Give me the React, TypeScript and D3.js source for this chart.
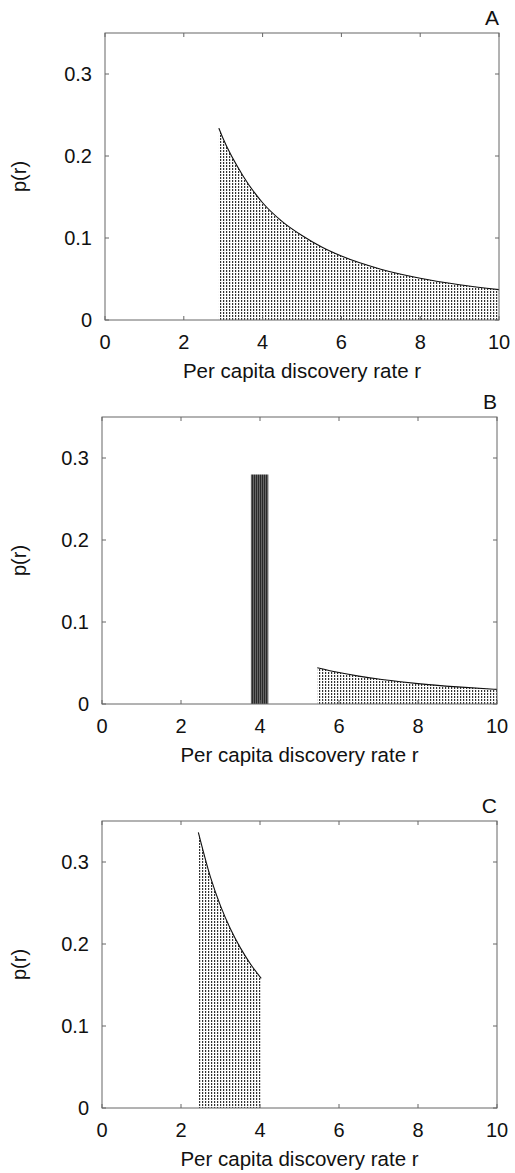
import React from 'react';
import * as d3 from 'd3';

// tick labels
const xTicks = [0, 2, 4, 6, 8, 10];
const yTicks = [0, 0.1, 0.2, 0.3];
const yTickLabels = ['0', '0.1', '0.2', '0.3'];
const panelLabels = ['A', 'B', 'C'];

// panel A: single decaying tail
const aR = [2.89, 3, 3.5, 4, 4.5, 5, 5.5, 6, 7, 8, 9, 10];
const aP = [0.234, 0.221, 0.176, 0.143, 0.12, 0.103, 0.089, 0.078, 0.062, 0.051, 0.043, 0.037];

// panel B: narrow spike plus a low tail
const bSpikeR = [3.77, 4.21];
const bSpikeP = [0.28, 0.28];
const bR = [5.45, 6, 6.5, 7, 7.5, 8, 9, 10];
const bP = [0.0443, 0.0384, 0.034, 0.0304, 0.0275, 0.0249, 0.0209, 0.0178];

// panel C: truncated decay
const cR = [2.44, 2.75, 3, 3.25, 3.5, 3.75, 4.03];
const cP = [0.336, 0.281, 0.2465, 0.2186, 0.1956, 0.1763, 0.158];

const font = '"Liberation Sans", Arial, sans-serif';

type Series = {r: number[]; p: number[]; fill: string; line: boolean};

const panels: {left: number; right: number; top: number; series: Series[]}[] = [
  {left: 105, right: 499, top: 33, series: [{r: aR, p: aP, fill: 'url(#dash)', line: true}]},
  {left: 102, right: 497, top: 417, series: [
    {r: bSpikeR, p: bSpikeP, fill: 'url(#solid)', line: false},
    {r: bR, p: bP, fill: 'url(#dash)', line: true},
  ]},
  {left: 102, right: 497, top: 821, series: [{r: cR, p: cP, fill: 'url(#dash)', line: true}]},
];

const plotH = 287;

function Panel({left, right, top, series, label}: any) {
  const x = d3.scaleLinear().domain([0, 10]).range([left, right]);
  const y = d3.scaleLinear().domain([0, 0.35]).range([top + plotH, top]);
  const bottom = top + plotH;
  const mid = (left + right) / 2;

  return (
    <g>
      {series.map((s: Series, k: number) => {
        const pts = s.r.map((r, i) => [r, s.p[i]] as [number, number]);
        const ar = d3.area<[number, number]>()
            .x((d) => x(d[0]))
            .y0(bottom)
            .y1((d) => y(d[1]))
            .curve(s.line ? d3.curveMonotoneX : d3.curveLinear);
        const ln = d3.line<[number, number]>()
            .x((d) => x(d[0]))
            .y((d) => y(d[1]))
            .curve(d3.curveMonotoneX);
        return (
          <g key={k}>
            <path d={ar(pts) || ''} fill={s.fill} stroke="none" />
            {s.line && <path d={ln(pts) || ''} fill="none" stroke="#111" strokeWidth={1.1} />}
          </g>
        );
      })}
      <rect x={left} y={top} width={right - left} height={plotH}
        fill="none" stroke="#666" strokeWidth={1} />
      {xTicks.map((t) => (
        <g key={'x' + t}>
          <line x1={x(t)} x2={x(t)} y1={bottom} y2={bottom - 4} stroke="#666" />
          <line x1={x(t)} x2={x(t)} y1={top} y2={top + 4} stroke="#666" />
          <text x={x(t)} y={bottom + 29} textAnchor="middle" fontSize={20}
            fill="#111" fontFamily={font}>{t}</text>
        </g>
      ))}
      {yTicks.map((t, i) => (
        <g key={'y' + t}>
          <line x1={left} x2={left + 4} y1={y(t)} y2={y(t)} stroke="#666" />
          <line x1={right} x2={right - 4} y1={y(t)} y2={y(t)} stroke="#666" />
          <text x={left - 13} y={y(t) + 7} textAnchor="end" fontSize={20}
            fill="#111" fontFamily={font}>{yTickLabels[i]}</text>
        </g>
      ))}
      <text x={right} y={top - 8} textAnchor="end" fontSize={21}
        fill="#111" fontFamily={font}>{label}</text>
      <text x={mid} y={bottom + 58} textAnchor="middle" fontSize={20.5}
        fill="#111" fontFamily={font}>Per capita discovery rate r</text>
      <text transform={`translate(26,${(top + bottom) / 2}) rotate(-90)`}
        textAnchor="middle" fontSize={20} fill="#111" fontFamily={font}>p(r)</text>
    </g>
  );
}

export default function App() {
  return (
    <svg width={515} height={1173} style={{position: 'absolute', left: 0, top: 0, background: '#fff'}}>
      <defs>
        <pattern id="dash" patternUnits="userSpaceOnUse" width={3} height={3}>
          <rect x={1} y={0} width={1.2} height={2} fill="#333" />
        </pattern>
        <pattern id="solid" patternUnits="userSpaceOnUse" width={2} height={4}>
          <rect x={0} y={0} width={2} height={4} fill="#666" />
          <rect x={0} y={0} width={1} height={4} fill="#2a2a2a" />
        </pattern>
      </defs>
      <rect x={0} y={0} width={515} height={1173} fill="#fff" />
      {panels.map((p, i) => (
        <Panel key={i} {...p} label={panelLabels[i]} />
      ))}
    </svg>
  );
}
